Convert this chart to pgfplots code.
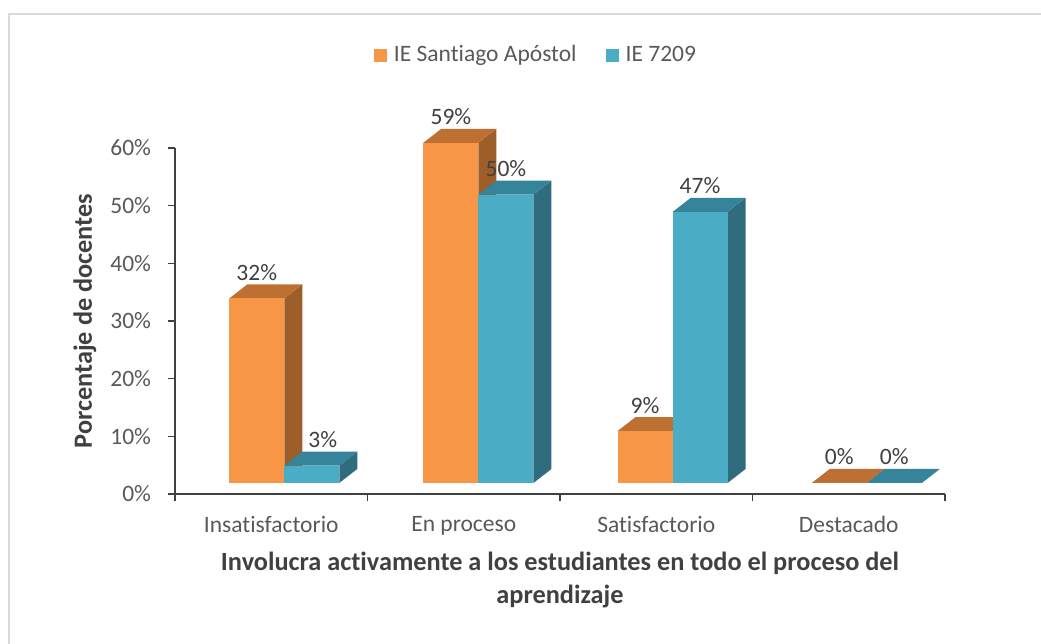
\documentclass[border=0pt]{standalone}
\usepackage{pgfplots}
\usepackage{pgfplotstable}
\pgfplotsset{compat=1.18}
\usepackage{fontspec}
\setmainfont{Carlito}[Ligatures=NoCommon]
\definecolor{orF}{HTML}{F79646}
\definecolor{orT}{HTML}{BE7033}
\definecolor{orS}{HTML}{9E5E2A}
\definecolor{tlF}{HTML}{4BACC6}
\definecolor{tlT}{HTML}{358499}
\definecolor{tlS}{HTML}{2F6C7D}
\definecolor{txt}{HTML}{595959}
\definecolor{dtxt}{HTML}{404040}
\definecolor{axc}{HTML}{404040}
\definecolor{frm}{HTML}{D9D9D9}

% x: category index, a: IE Santiago Apostol, b: IE 7209, bo: label nudge (pt)
\pgfplotstableread{
x  a   b   bo
0  32  3   11
1  59  50  0
2  9   47  0
3  0   0   0
}\datatable

% 3D column drawn at each data point: front face, top face, side face
\newcommand\drawbar[4]{%
  \pgfkeys{/pgf/fpu=true,/pgf/fpu/output format=fixed}%
  \pgfmathsetmacro\hh{\vy*346/60}%
  \pgfmathsetmacro\xl{13+1.65*\vx+#1}%
  \pgfmathsetmacro\xr{\xl+55}%
  \pgfmathsetmacro\yb{11-\hh}%
  \pgfmathsetmacro\xld{\xl+18}%
  \pgfmathsetmacro\xrd{\xr+18}%
  \pgfmathsetmacro\ybd{\yb+14}%
  \pgfkeys{/pgf/fpu=false}%
  \pgfpathmoveto{\pgfpoint{\xr pt}{11pt}}%
  \pgfpathlineto{\pgfpoint{\xrd pt}{25pt}}%
  \pgfpathlineto{\pgfpoint{\xrd pt}{\ybd pt}}%
  \pgfpathlineto{\pgfpoint{\xr pt}{\yb pt}}%
  \pgfpathclose
  \pgfsetfillcolor{#4}\pgfusepath{fill}%
  \pgfpathmoveto{\pgfpoint{\xl pt}{11pt}}%
  \pgfpathlineto{\pgfpoint{\xr pt}{11pt}}%
  \pgfpathlineto{\pgfpoint{\xrd pt}{25pt}}%
  \pgfpathlineto{\pgfpoint{\xld pt}{25pt}}%
  \pgfpathclose
  \pgfsetfillcolor{#3}\pgfusepath{fill}%
  \pgfpathrectanglecorners{\pgfpoint{\xl pt}{\yb pt}}{\pgfpoint{\xr pt}{11pt}}%
  \pgfsetfillcolor{#2}\pgfusepath{fill}%
}
\pgfdeclareplotmark{barA}{\drawbar{-55}{orF}{orT}{orS}}
\pgfdeclareplotmark{barB}{\drawbar{0}{tlF}{tlT}{tlS}}

\newcommand\fs{\fontsize{23.5}{28}\selectfont}
\newcommand\fb{\bfseries\fontsize{26.3}{33}\selectfont}
\tikzset{
  lblshift/.style={/utils/exec={\pgfkeys{/pgf/fpu=true,/pgf/fpu/output format=fixed}%
      \pgfmathsetmacro\lx{13+1.65*\vx+#1}\pgfkeys{/pgf/fpu=false}},
    xshift=\lx pt},
}

\begin{document}
\begin{tikzpicture}[x=1pt,y=1pt]
\useasboundingbox (0,0) rectangle (1041,644);
\clip (0,0) rectangle (1041,644);
\draw[frm, line width=2pt] (9,-10) -- (9,630) -- (1060,630);
\begin{axis}[
  at={(175pt,150pt)}, anchor=south west,
  scale only axis, width=770pt, height=346pt,
  xmin=-0.5, xmax=3.5, ymin=0, ymax=60,
  clip=false,
  axis lines=left,
  axis line style={-, draw=axc, line width=1.5pt},
  tick style={draw=axc, line width=1.3pt},
  tick align=outside,
  major tick length=7.5pt,
  xtick={-0.5,0.5,1.5,2.5,3.5},
  x tick label as interval,
  xticklabels={Insatisfactorio,En proceso,Satisfactorio,Destacado},
  ytick={0,10,...,60},
  yticklabel={\pgfmathprintnumber{\tick}\%},
  /pgf/number format/assume math mode=true,
  ticklabel style={font=\fs, text=txt},
  xticklabel style={yshift=-11pt},
  yticklabel style={xshift=-13pt},
  xlabel={Involucra activamente a los estudiantes en todo el proceso del\\aprendizaje},
  every axis x label/.style={at={(axis description cs:0.5,0)}, anchor=north, yshift=-57.5pt,
     align=center, font=\fb, text=dtxt, inner sep=0pt},
  ylabel={Porcentaje de docentes},
  every axis y label/.style={at={(axis description cs:-0.1169,0.5)}, anchor=center, rotate=90,
     font=\fb, text=dtxt, inner sep=0pt},
  legend style={draw=none, fill=none, at={(axis description cs:0.4675,1.2659)}, anchor=center,
     font=\fs, text=txt, nodes={text height=17pt, text depth=5pt, inner sep=0pt},
     /tikz/every even column/.append style={column sep=29pt},
     /tikz/every odd column/.append style={column sep=7pt}},
  legend columns=2,
  legend cell align=left,
  legend image code/.code={\fill[#1] (0pt,-6pt) rectangle (13pt,7pt);},
]
\addplot[forget plot, only marks, mark=barA,
  visualization depends on={\thisrow{x} \as \vx},
  visualization depends on={\thisrow{a} \as \vy},
  nodes near coords={\pgfmathprintnumber{\pgfplotspointmeta}\%},
  every node near coord/.append style={anchor=base, lblshift=-27.5, yshift=29pt,
     font=\fs, text=dtxt, inner sep=0pt}]
  table[x=x, y=a] {\datatable};
\addplot[forget plot, only marks, mark=barB,
  visualization depends on={\thisrow{x} \as \vx},
  visualization depends on={\thisrow{b} \as \vy},
  visualization depends on={\thisrow{bo} \as \bo},
  nodes near coords={\pgfmathprintnumber{\pgfplotspointmeta}\%},
  every node near coord/.append style={anchor=base, lblshift={27.5+\bo}, yshift=29pt,
     font=\fs, text=dtxt, inner sep=0pt}]
  table[x=x, y=b] {\datatable};
\addlegendimage{fill=orF, draw=none}
\addlegendentry{IE Santiago Apóstol}
\addlegendimage{fill=tlF, draw=none}
\addlegendentry{IE 7209}
\end{axis}
\end{tikzpicture}
\end{document}
